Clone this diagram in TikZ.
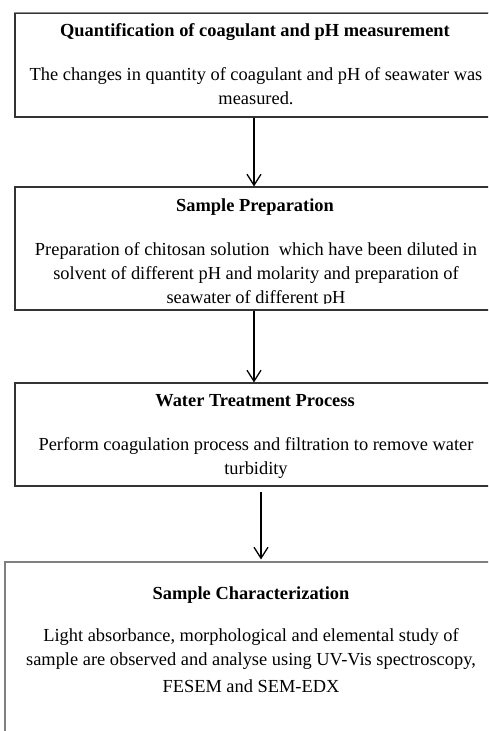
\documentclass[tikz,border=0pt]{standalone}
\usepackage{fontspec}
\setmainfont{Liberation Serif}
\usetikzlibrary{arrows.meta}

\begin{document}
\begin{tikzpicture}[x=1pt,y=-1pt]

\tikzstyle{box} = [rectangle, draw=black!80, line width=1.1pt, inner sep=0pt]
\tikzstyle{heading} = [font=\fontsize{18.4}{24}\selectfont\bfseries, anchor=base, inner sep=0pt]
\tikzstyle{body} = [font=\fontsize{18.4}{24}\selectfont, align=center, anchor=base, inner sep=0pt]
\tikzstyle{arrow} = [line width=1.3pt, -{Straight Barb[length=11pt,width=14pt,line width=1.3pt]}]

\clip (0,0) rectangle (488,731);
\fill[white] (0,0) rectangle (488,731);

% boxes
\node (q) [box, minimum width=480pt, minimum height=104pt] at (255,65) {};
\draw[black!45, line width=1.5pt] (q.north west) -- (q.north east);
\node (s) [box, minimum width=480pt, minimum height=123pt] at (255,248.5) {};
\node (w) [box, minimum width=480pt, minimum height=103pt] at (255,434.5) {};
\node (c) [box, draw=black!50, minimum width=492pt, minimum height=183pt] at (251,653.5) {};

% texts (base = last line)
\node (qhead) [heading] at (255,36) {Quantification of coagulant and pH measurement};
\node (qtext) [body] at (256,104) {The changes in quantity of coagulant and pH of seawater was\\measured.};

\begin{scope}
\clip (s.north west) rectangle ([yshift=7pt]s.south east);
\node (shead) [heading] at (255,211) {Sample Preparation};
\node (stext) [body] at (256,303) {Preparation of chitosan solution~ which have been diluted in\\solvent of different pH and molarity and preparation of\\seawater of different pH};
\end{scope}

\node (whead) [heading] at (255,406) {Water Treatment Process};
\node (wtext) [body] at (256,474) {Perform coagulation process and filtration to remove water\\turbidity};

\node (chead) [heading] at (251,599) {Sample Characterization};
\node (ctext) [body] at (251,692) {Light absorbance, morphological and elemental study of\\sample are observed and analyse using UV-Vis spectroscopy,\\[3pt]FESEM and SEM-EDX};

% arrows
\draw [arrow] ([xshift=-1pt]q.south) -- ([xshift=-1pt]s.north);
\draw [arrow] ([xshift=-1pt]s.south) -- ([xshift=-1pt]w.north);
\draw [arrow] ([xshift=6pt,yshift=-5pt]w.south) -- ([xshift=10pt,yshift=2pt]c.north);

\end{tikzpicture}
\end{document}
